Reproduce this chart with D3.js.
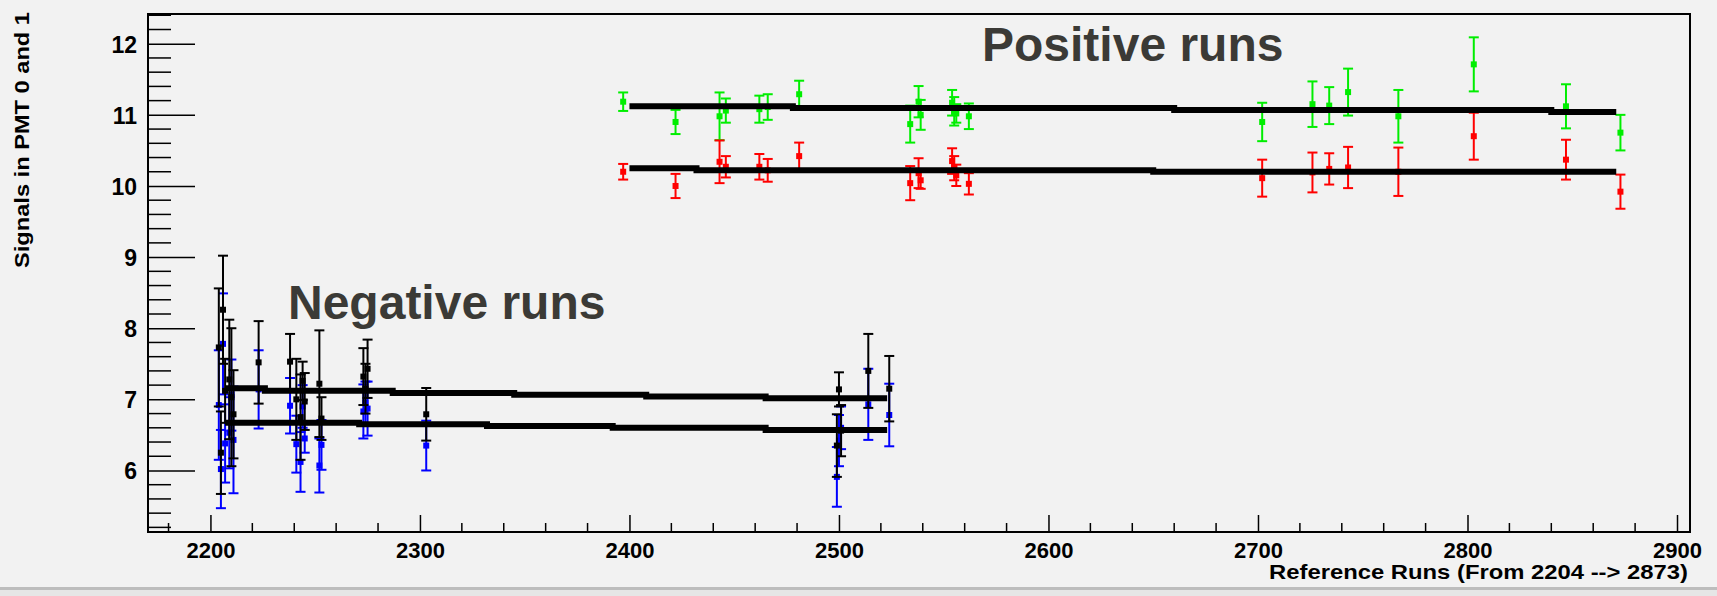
<!DOCTYPE html>
<html>
<head>
<meta charset="utf-8">
<title>Signals in PMT 0 and 1</title>
<style>
  body { margin: 0; background: #f2f2f2; overflow: hidden; }
  svg text { font-family: "Liberation Sans", Arial, sans-serif; font-weight: bold; }
</style>
</head>
<body>
<div class="container"></div>
<script src="https://d3js.org/d3.v7.min.js"></script>
<script>
var wd = 1717, ht = 596

// positive runs: green (PMT 0) and red (PMT 1)  [run, value, error]
var greenPos = [
  [2397, 11.185, 0.13], [2422, 10.90, 0.17], [2443, 10.98, 0.335], [2446, 11.06, 0.17],
  [2462, 11.08, 0.19], [2466, 11.11, 0.18], [2481, 11.29, 0.19], [2534, 10.87, 0.26],
  [2538, 11.185, 0.22], [2539, 11.00, 0.21], [2554, 11.17, 0.18], [2555, 11.05, 0.20],
  [2556, 11.02, 0.13], [2562, 10.98, 0.18], [2702, 10.90, 0.27], [2726, 11.15, 0.32],
  [2734, 11.13, 0.26], [2743, 11.32, 0.33], [2767, 10.98, 0.37], [2803, 11.71, 0.38],
  [2847, 11.12, 0.31], [2873, 10.75, 0.25]
]
var redPos = [
  [2397, 10.20, 0.11], [2422, 10.00, 0.17], [2443, 10.34, 0.30], [2446, 10.27, 0.15],
  [2462, 10.27, 0.18], [2466, 10.22, 0.16], [2481, 10.42, 0.19], [2534, 10.04, 0.24],
  [2538, 10.18, 0.21], [2539, 10.08, 0.12], [2554, 10.35, 0.18], [2555, 10.25, 0.17],
  [2556, 10.15, 0.15], [2562, 10.03, 0.15], [2702, 10.11, 0.26], [2726, 10.19, 0.28],
  [2734, 10.24, 0.22], [2743, 10.26, 0.29], [2767, 10.20, 0.34], [2803, 10.70, 0.33],
  [2847, 10.37, 0.28], [2873, 9.92, 0.24]
]
// negative runs: black and blue
var blackNeg = [
  [2204, 7.73, 0.83], [2205, 6.25, 0.58], [2206, 8.26, 0.76], [2207, 7.12, 0.45],
  [2209, 7.28, 0.84], [2210, 7.03, 0.97], [2211, 6.79, 0.62], [2223, 7.52, 0.58],
  [2238, 7.53, 0.39], [2241, 7.00, 0.57], [2243, 6.75, 0.60], [2244, 7.26, 0.27],
  [2245, 6.97, 0.40], [2252, 7.22, 0.75], [2253, 6.73, 0.30], [2273, 7.32, 0.40],
  [2274, 7.15, 0.35], [2275, 7.43, 0.41], [2303, 6.79, 0.37], [2499, 6.35, 0.44],
  [2500, 7.14, 0.24], [2501, 6.56, 0.36], [2514, 7.40, 0.52], [2524, 7.15, 0.46]
]
var blueNeg = [
  [2204, 6.92, 0.77], [2205, 6.02, 0.55], [2206, 7.78, 0.71], [2207, 6.38, 0.55],
  [2209, 6.53, 0.50], [2210, 7.06, 0.50], [2211, 6.43, 0.75], [2223, 7.14, 0.55],
  [2238, 6.91, 0.39], [2241, 6.37, 0.40], [2243, 6.12, 0.42], [2244, 6.90, 0.30],
  [2245, 6.45, 0.20], [2252, 6.07, 0.38], [2253, 6.36, 0.35], [2273, 6.83, 0.38],
  [2274, 6.95, 0.30], [2275, 6.87, 0.38], [2303, 6.35, 0.35], [2499, 5.91, 0.42],
  [2500, 6.42, 0.36], [2501, 6.60, 0.30], [2514, 6.93, 0.50], [2524, 6.78, 0.44]
]
// running means, drawn as thick steps  [from run, to run, value]
var greenMean = [[2400, 2478, 11.12], [2478, 2660, 11.095], [2660, 2840, 11.07], [2840, 2871, 11.04]]
var redMean   = [[2400, 2432, 10.25], [2432, 2650, 10.22], [2650, 2871, 10.20]]
var blackMean = [[2207, 2226, 7.155], [2226, 2287, 7.12], [2287, 2345, 7.09], [2345, 2408, 7.065], [2408, 2465, 7.04], [2465, 2523, 7.015]]
var blueMean  = [[2207, 2271, 6.67], [2271, 2332, 6.65], [2332, 2392, 6.625], [2392, 2465, 6.6], [2465, 2523, 6.57]]

var xTicks = [2200, 2300, 2400, 2500, 2600, 2700, 2800, 2900]
var yTicks = [6, 7, 8, 9, 10, 11, 12]

var svg = d3.select(".container").append("svg")
  .attr("width", wd).attr("height", ht)

svg.append("rect").attr("width", wd).attr("height", ht).attr("fill", "#f2f2f2")

var x = d3.scaleLinear().domain([2170.2, 2906.2]).range([148, 1690])
var y = d3.scaleLinear().domain([5.135, 12.418]).range([532, 14])

// minor ticks
var xMinor = d3.range(2180, 2906, 20).filter(function(d){ return d % 100 != 0 })
var yMinor = d3.range(5.2, 12.41, 0.2).filter(function(d){ return Math.abs(d - Math.round(d)) > 0.01 })

svg.append("g").selectAll("line").data(xMinor).join("line")
  .attr("x1", function(d){ return x(d) }).attr("x2", function(d){ return x(d) })
  .attr("y1", 532).attr("y2", 523)
  .attr("stroke", "#000").attr("stroke-width", 1.5)
svg.append("g").selectAll("line").data(yMinor).join("line")
  .attr("y1", function(d){ return y(d) }).attr("y2", function(d){ return y(d) })
  .attr("x1", 148).attr("x2", 171)
  .attr("stroke", "#000").attr("stroke-width", 1.5)

var xAxis = svg.append("g").attr("transform", "translate(0,532)")
  .call(d3.axisBottom(x).tickValues(xTicks).tickFormat(d3.format("d")).tickSizeInner(-17).tickSizeOuter(0).tickPadding(10))
xAxis.select(".domain").remove()
xAxis.selectAll("line").attr("stroke-width", 1.5)
xAxis.selectAll("text").style("font-size", "22px").attr("fill", "#000")

var yAxis = svg.append("g").attr("transform", "translate(148,0)")
  .call(d3.axisLeft(y).tickValues(yTicks).tickFormat(d3.format("d")).tickSizeInner(-47).tickSizeOuter(0).tickPadding(11))
yAxis.select(".domain").remove()
yAxis.selectAll("line").attr("stroke-width", 1.5)
yAxis.selectAll("text").style("font-size", "23px").attr("fill", "#000").attr("dy", "0.36em")

// frame
svg.append("rect").attr("x", 148).attr("y", 14).attr("width", 1690 - 148).attr("height", 532 - 14)
  .attr("fill", "none").attr("stroke", "#000").attr("stroke-width", 2)

// error bars + markers
function drawSeries(data, col) {
  var g = svg.append("g")
  g.selectAll(".bar").data(data).join("line")
    .attr("x1", function(d){ return x(d[0]) }).attr("x2", function(d){ return x(d[0]) })
    .attr("y1", function(d){ return y(d[1] + d[2]) }).attr("y2", function(d){ return y(d[1] - d[2]) })
    .attr("stroke", col).attr("stroke-width", 2)
  g.selectAll(".capT").data(data).join("line")
    .attr("x1", function(d){ return x(d[0]) - 5 }).attr("x2", function(d){ return x(d[0]) + 5 })
    .attr("y1", function(d){ return y(d[1] + d[2]) }).attr("y2", function(d){ return y(d[1] + d[2]) })
    .attr("stroke", col).attr("stroke-width", 2)
  g.selectAll(".capB").data(data).join("line")
    .attr("x1", function(d){ return x(d[0]) - 5 }).attr("x2", function(d){ return x(d[0]) + 5 })
    .attr("y1", function(d){ return y(d[1] - d[2]) }).attr("y2", function(d){ return y(d[1] - d[2]) })
    .attr("stroke", col).attr("stroke-width", 2)
  g.selectAll("rect").data(data).join("rect")
    .attr("x", function(d){ return x(d[0]) - 3 }).attr("y", function(d){ return y(d[1]) - 3 })
    .attr("width", 6).attr("height", 6).attr("fill", col)
}

function drawMean(steps) {
  var pts = []
  steps.forEach(function(s){ pts.push([s[0], s[2]]); pts.push([s[1], s[2]]) })
  svg.append("path")
    .attr("d", d3.line().x(function(d){ return x(d[0]) }).y(function(d){ return y(d[1]) })(pts))
    .attr("fill", "none").attr("stroke", "#000").attr("stroke-width", 6)
}

drawSeries(blueNeg, "#0000ff")
drawSeries(blackNeg, "#000000")
drawSeries(greenPos, "#00ee00")
drawSeries(redPos, "#ff0000")
drawMean(greenMean)
drawMean(redMean)
drawMean(blackMean)
drawMean(blueMean)

// annotations
svg.append("text").attr("x", 982).attr("y", 61).text("Positive runs")
  .style("font-size", "48px").attr("fill", "#3b3a36")
svg.append("text").attr("x", 288).attr("y", 319).text("Negative runs")
  .style("font-size", "48px").attr("fill", "#3b3a36")

// axis titles
svg.append("text").attr("transform", "translate(29,140) rotate(-90)")
  .attr("text-anchor", "middle").text("Signals in PMT 0 and 1")
  .style("font-size", "21px").attr("textLength", 256).attr("lengthAdjust", "spacingAndGlyphs")
svg.append("text").attr("x", 1688).attr("y", 579).attr("text-anchor", "end")
  .text("Reference Runs (From 2204 --> 2873)")
  .style("font-size", "21px").attr("textLength", 419).attr("lengthAdjust", "spacingAndGlyphs")

// bottom edge of the slide
svg.append("rect").attr("x", 0).attr("y", 587).attr("width", wd).attr("height", 3).attr("fill", "#bdbdbd")
svg.append("rect").attr("x", 0).attr("y", 590).attr("width", wd).attr("height", 6).attr("fill", "#e6e6e6")
</script>
</body>
</html>
